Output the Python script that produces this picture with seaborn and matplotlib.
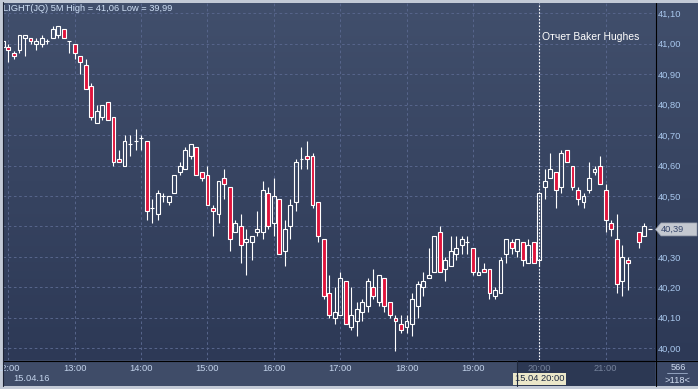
import numpy as np
import pandas as pd
import matplotlib
matplotlib.use("Agg")
import matplotlib.pyplot as plt
import seaborn as sns
from matplotlib.colors import LinearSegmentedColormap
from matplotlib.patches import Polygon, Rectangle
from matplotlib.lines import Line2D

nan = np.nan

# 5M bars of LIGHT(JQ), 15.04.16, first bar 11:55 (bar 21:25 has no data)
start_time = "2016-04-15 11:55"
open_ = [40.99, 40.99, 40.97, 40.98, 41.02, 41.02, 41.00, 41.00, 41.01, 41.02,
         41.03, 41.05, 41.01, 41.00, 40.96, 40.93, 40.86, 40.74, 40.76, 40.81,
         40.76, 40.62, 40.60, 40.67, 40.68, 40.69, 40.68, 40.46, 40.44, 40.50,
         40.48, 40.51, 40.58, 40.59, 40.63, 40.66, 40.58, 40.57, 40.46, 40.44,
         40.56, 40.53, 40.38, 40.40, 40.35, 40.35, 40.38, 40.38, 40.51, 40.41,
         40.49, 40.32, 40.40, 40.48, 40.62, 40.63, 40.63, 40.48, 40.36, 40.18,
         40.10, 40.11, 40.22, 40.07, 40.09, 40.12, 40.14, 40.20, 40.15, 40.23,
         40.15, 40.10, 40.08, 40.07, 40.08, 40.14, 40.20, 40.23, 40.25, 40.38,
         40.26, 40.27, 40.31, 40.34, 40.35, 40.33, 40.24, 40.26, 40.26, 40.17,
         40.18, 40.31, 40.35, 40.32, 40.35, 40.28, 40.35, 40.29, 40.53, 40.56,
         40.58, 40.53, 40.65, 40.60, 40.52, 40.48, 40.52, 40.58, 40.60, 40.52,
         40.41, 40.36, 40.22, 40.29, nan, 40.38, 40.37, 40.39]
high = [41.01, 41.00, 40.975, 41.03, 41.03, 41.02, 41.02, 41.03, 41.015, 41.06,
        41.06, 41.05, 41.01, 41.00, 40.96, 40.95, 40.87, 40.80, 40.80, 40.81,
        40.76, 40.65, 40.70, 40.70, 40.72, 40.70, 40.68, 40.49, 40.52, 40.51,
        40.50, 40.57, 40.61, 40.66, 40.67, 40.66, 40.58, 40.60, 40.47, 40.55,
        40.59, 40.53, 40.42, 40.44, 40.39, 40.37, 40.45, 40.55, 40.53, 40.56,
        40.49, 40.42, 40.49, 40.62, 40.66, 40.68, 40.64, 40.48, 40.36, 40.24,
        40.20, 40.25, 40.22, 40.20, 40.15, 40.16, 40.23, 40.26, 40.24, 40.23,
        40.15, 40.11, 40.11, 40.11, 40.18, 40.22, 40.25, 40.33, 40.37, 40.40,
        40.30, 40.37, 40.37, 40.37, 40.37, 40.33, 40.30, 40.28, 40.26, 40.20,
        40.30, 40.36, 40.36, 40.36, 40.35, 40.36, 40.35, 40.51, 40.59, 40.64,
        40.58, 40.65, 40.65, 40.60, 40.53, 40.51, 40.61, 40.60, 40.63, 40.54,
        40.42, 40.44, 40.34, 40.30, nan, 40.38, 40.41, 40.39]
low = [40.98, 40.94, 40.95, 40.97, 40.96, 41.00, 40.98, 40.99, 41.00, 41.02,
       41.02, 41.02, 40.97, 40.95, 40.90, 40.85, 40.75, 40.74, 40.75, 40.75,
       40.60, 40.61, 40.60, 40.63, 40.65, 40.65, 40.42, 40.41, 40.42, 40.48,
       40.47, 40.51, 40.57, 40.59, 40.62, 40.57, 40.55, 40.47, 40.37, 40.41,
       40.49, 40.32, 40.38, 40.28, 40.24, 40.29, 40.37, 40.36, 40.39, 40.37,
       40.31, 40.27, 40.36, 40.45, 40.59, 40.59, 40.46, 40.35, 40.16, 40.10,
       40.08, 40.11, 40.08, 40.06, 40.04, 40.09, 40.12, 40.16, 40.14, 40.12,
       40.10, 39.99, 40.05, 40.05, 40.04, 40.10, 40.17, 40.23, 40.25, 40.25,
       40.22, 40.27, 40.29, 40.31, 40.31, 40.24, 40.24, 40.25, 40.16, 40.16,
       40.18, 40.28, 40.31, 40.30, 40.27, 40.28, 40.28, 40.27, 40.49, 40.56,
       40.46, 40.51, 40.61, 40.52, 40.47, 40.46, 40.51, 40.57, 40.54, 40.38,
       40.37, 40.18, 40.17, 40.19, nan, 40.33, 40.37, 40.39]
close = [41.01, 40.98, 40.96, 41.03, 41.03, 41.01, 41.01, 41.02, 41.01, 41.05,
         41.06, 41.02, 41.01, 40.97, 40.94, 40.85, 40.76, 40.78, 40.80, 40.75,
         40.61, 40.61, 40.68, 40.67, 40.68, 40.69, 40.45, 40.46, 40.51, 40.50,
         40.50, 40.57, 40.60, 40.65, 40.67, 40.57, 40.56, 40.47, 40.45, 40.55,
         40.54, 40.36, 40.41, 40.34, 40.36, 40.37, 40.39, 40.52, 40.40, 40.50,
         40.31, 40.39, 40.47, 40.61, 40.62, 40.62, 40.47, 40.37, 40.17, 40.11,
         40.12, 40.23, 40.08, 40.11, 40.13, 40.15, 40.22, 40.17, 40.24, 40.14,
         40.11, 40.09, 40.06, 40.09, 40.16, 40.21, 40.22, 40.24, 40.37, 40.25,
         40.29, 40.32, 40.33, 40.36, 40.35, 40.25, 40.25, 40.25, 40.18, 40.19,
         40.29, 40.36, 40.33, 40.36, 40.29, 40.34, 40.28, 40.51, 40.55, 40.59,
         40.52, 40.64, 40.61, 40.53, 40.49, 40.50, 40.56, 40.59, 40.54, 40.42,
         40.39, 40.21, 40.30, 40.28, nan, 40.35, 40.40, 40.39]

price_ticks = [40.00, 40.10, 40.20, 40.30, 40.40, 40.50, 40.60, 40.70, 40.80, 40.90, 41.00, 41.10]
event_time = "2016-04-15 20:00"
event_label = "Отчет Baker Hughes"

df = pd.DataFrame({"open": open_, "high": high, "low": low, "close": close})
df["time"] = pd.date_range(start_time, periods=len(df), freq="5min")
df["x"] = np.arange(len(df))
df["top"] = df[["open", "close"]].max(axis=1)
df["bot"] = df[["open", "close"]].min(axis=1)
df["up"] = df["close"] >= df["open"]
last = df["close"].iloc[-1]

W, H = 698, 389
def fx(px):
    return px / W
def fy(py):
    return 1 - py / H

sns.set_theme(style="dark")
plt.rcParams["font.family"] = ["Liberation Sans", "DejaVu Sans"]

fig = plt.figure(figsize=(W / 100, H / 100), dpi=100)
fig.patch.set_facecolor("#c3cad6")

# gradient background behind the chart and the price scale
bg = fig.add_axes([fx(3), fy(360), fx(698) - fx(3), fy(3) - fy(360)])
bg_cmap = LinearSegmentedColormap.from_list("bg", ["#414f6c", "#2d3956"])
bg.imshow(np.linspace(0, 1, 256).reshape(-1, 1), cmap=bg_cmap, aspect="auto", extent=[0, 1, 0, 1])
bg.axis("off")

ax = fig.add_axes([fx(3), fy(360), fx(655) - fx(3), fy(3) - fy(360)])
ax.patch.set_alpha(0)
for s in ax.spines.values():
    s.set_visible(False)

hours = df.loc[df["time"].dt.minute == 0]
ax.set_xticks(hours["x"])
ax.tick_params(axis="x", length=0, labelbottom=False)
ax.yaxis.tick_right()
ax.set_yticks(price_ticks)
# the label under the last price tag is hidden, as in the terminal
ax.set_yticklabels(["" if abs(v - last) < 0.05 else f"{v:.2f}".replace(".", ",") for v in price_ticks])
ax.tick_params(axis="y", length=0, pad=2.2, labelsize=6.7, labelcolor="#a9c8ee")
ax.grid(True, color="#56648a", linestyle=(0, (2.5, 2.5)), linewidth=0.75)
ax.set_xlim(0.02, 117.93)
ax.set_ylim(39.961, 41.134)

# event marker
ev_x = df.loc[df["time"] == pd.Timestamp(event_time), "x"].iloc[0]
ax.axvline(ev_x, color="white", linestyle=(0, (1.5, 1.5)), linewidth=0.8, zorder=2)
ax.annotate(event_label, xy=(ev_x, 1), xycoords=("data", "axes fraction"),
            xytext=(1.8, -24.5), textcoords="offset points",
            ha="left", va="center", fontsize=7.5, color="white")

# candles
ax.vlines(df["x"], df["top"], df["high"], color="white", linewidth=0.8, zorder=3)
ax.vlines(df["x"], df["low"], df["bot"], color="white", linewidth=0.8, zorder=3)
up = df[df["up"]]
dn = df[~df["up"]]
ax.bar(up["x"], up["top"] - up["bot"], bottom=up["bot"], width=0.7,
       facecolor="none", edgecolor="white", linewidth=0.8, zorder=4)
ax.bar(dn["x"], dn["top"] - dn["bot"], bottom=dn["bot"], width=0.7,
       facecolor="#e0143c", edgecolor="white", linewidth=0.8, zorder=4)

# title
hi = np.nanmax(high)
lo = np.nanmin(low)
fig.text(fx(3), fy(8.5), f"LIGHT(JQ) 5M High = {hi:.2f} Low = {lo:.2f}".replace(".", ","),
         ha="left", va="center", fontsize=6.7, color="#cfe0f6")

# time scale strip
axb = fig.add_axes([fx(3), fy(386), fx(655) - fx(3), fy(360) - fy(386)])
axb.set_facecolor("#3f4c68")
axb.set_xlim(ax.get_xlim())
axb.set_ylim(0, 1)
axb.set_xticks([])
axb.set_yticks([])
for s in axb.spines.values():
    s.set_visible(False)
axb.add_patch(Rectangle(((517 - 3) / 652, 0), 1, 1, transform=axb.transAxes,
                        facecolor="#2c3853", edgecolor="none"))
for _, r in hours.iterrows():
    col = "#76839c" if r["time"].hour >= 20 else "#c4d4ec"
    axb.text(r["x"], 0.68, r["time"].strftime("%H:%M"), ha="center", va="center",
             fontsize=6.7, color=col)
axb.text((13 - 3) / 652, 0.27, df["time"].iloc[0].strftime("%d.%m.%y"), transform=axb.transAxes,
         ha="left", va="center", fontsize=6.7, color="#c4d4ec")
axb.text(ev_x, 0.27, pd.Timestamp(event_time).strftime("%d.%m %H:%M"), ha="center", va="center",
         fontsize=6.7, color="#1c2840",
         bbox=dict(boxstyle="square,pad=0.2", facecolor="#ebe7c9", edgecolor="none"))

# corner box
axc = fig.add_axes([fx(655), fy(386), fx(698) - fx(655), fy(360) - fy(386)])
axc.set_facecolor("#3b4866")
axc.set_xticks([])
axc.set_yticks([])
for s in axc.spines.values():
    s.set_visible(False)
axc.set_xlim(0, 1)
axc.set_ylim(0, 1)
axc.text(0.55, 0.72, "566", ha="center", va="center", fontsize=6.7, color="#d0dcf0")
axc.plot([0.27, 0.74], [0.49, 0.49], color="#9fb0cc", linewidth=0.6)
axc.text(0.52, 0.22, f">{len(df)}<", ha="center", va="center", fontsize=6.7, color="#d0dcf0")

# frame lines
fig.add_artist(Line2D([fx(655.5), fx(655.5)], [fy(3), fy(386)], color="black", linewidth=0.8, zorder=6))
fig.add_artist(Line2D([fx(3), fx(698)], [fy(360.5), fy(360.5)], color="black", linewidth=0.8, zorder=6))
fig.add_artist(Line2D([fx(517), fx(517)], [fy(361), fy(386)], color="#20293d", linewidth=0.8, zorder=6))
fig.add_artist(Line2D([fx(2.5), fx(2.5)], [fy(2), fy(386)], color="#1c2233", linewidth=0.8, zorder=6))

# last price tag
py = H - ax.transData.transform((0, last))[1]
tag = [(655.5, py), (661, py - 6.5), (697, py - 6.5), (697, py + 6.5), (661, py + 6.5)]
fig.add_artist(Polygon([(fx(a), fy(b)) for a, b in tag], closed=True, transform=fig.transFigure,
                       facecolor="#c4c8d0", edgecolor="#9098a8", linewidth=0.5, zorder=7))
fig.text(fx(661), fy(py), f"{last:.2f}".replace(".", ","), ha="left", va="center",
         fontsize=6.7, color="#34446a", zorder=8)

fig.savefig("out.png", dpi=100)
